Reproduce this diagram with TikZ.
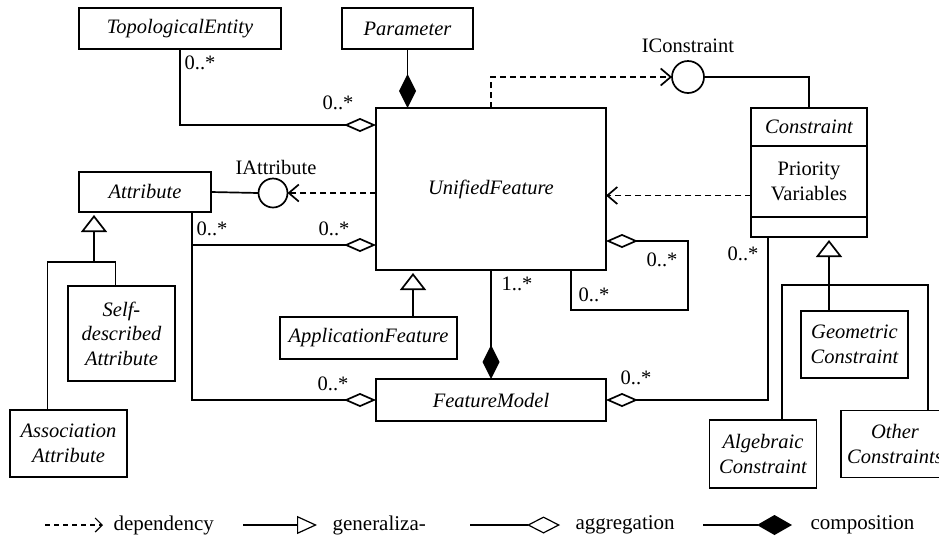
\documentclass[tikz,border=0pt]{standalone}
\usepackage{fontspec}
\setmainfont{Liberation Serif}
\usetikzlibrary{positioning, arrows.meta}

\begin{document}
\begin{tikzpicture}[
    x=1pt, y=-1pt,
    line width=1.7pt,
    box/.style={draw, rectangle, inner sep=0pt, outer sep=0pt, align=center,
        font=\fontsize{20.5}{24.5}\selectfont\itshape},
    mult/.style={inner sep=0pt, font=\fontsize{20.5}{24.5}\selectfont},
    iface/.style={draw, circle, inner sep=0pt, outer sep=0pt},
    dep/.style={dash pattern=on 6pt off 4pt, -{Straight Barb[length=10pt,width=17pt]}},
    aggr/.style={-{Diamond[open,length=32pt,width=14pt]}},
    comp/.style={-{Diamond[length=34pt,width=17pt]}},
    gen/.style={-{Triangle[open,length=17pt,width=26pt]}, shorten >=3pt},
    legend/.style={inner sep=0pt, anchor=west, font=\fontsize{21}{24}\selectfont}
]
\useasboundingbox (0,0) rectangle (939,539);

% classes
\node[box, minimum width=202pt, minimum height=41pt] (topo) at (180,28.5) {TopologicalEntity};
\node[box, minimum width=131pt, minimum height=41pt] (param) at (407.5,28.5) {Parameter};
\node[box, minimum width=230pt, minimum height=162pt] (uf) at (491,189) {UnifiedFeature};
\node[box, minimum width=132pt, minimum height=40pt] (attr) at (145,192) {Attribute};
\node[box, minimum width=107pt, minimum height=95pt] (selfattr) at (121.5,333.5) {Self-\\described\\Attribute};
\node[box, minimum width=117pt, minimum height=67pt] (assocattr) at (68.5,443.5) {Association\\Attribute};
\node[box, minimum width=177pt, minimum height=42pt] (appf) at (368.5,338) {ApplicationFeature};
\node[box, minimum width=230pt, minimum height=42pt] (fm) at (491,400) {FeatureModel};

% constraint class with compartments
\node[box, minimum width=116pt, minimum height=38pt] (cname) at (809,127) {Constraint};
\node[box, minimum width=116pt, minimum height=71pt, font=\fontsize{20.5}{24.5}\selectfont, below=0pt of cname] (cattr) {Priority\\Variables};
\node[box, minimum width=116pt, minimum height=20pt, below=0pt of cattr] (cops) {};

\node[box, minimum width=107pt, minimum height=67pt] (geo) at (854.5,344.5) {Geometric\\Constraint};
\node[box, minimum width=107pt, minimum height=68pt] (alg) at (763,454) {Algebraic\\Constraint};
\node[box, minimum width=108pt, minimum height=67pt] (other) at (895,444) {Other\\Constraints};

% interfaces
\node[iface, minimum size=29pt] (iattr) at (273,193) {};
\node[mult] (iattrlbl) at (276,167) {IAttribute};
\node[iface, minimum size=32pt] (iconst) at (688,77) {};
\node[mult] (iconstlbl) at (688,46) {IConstraint};

% helper points
\coordinate (attrleg) at ([xshift=-19pt]attr.south east);
\coordinate (agen) at ([xshift=15pt]attr.south west);
\coordinate (ajoin) at (94,262);
\coordinate (loop) at (688,310);
\coordinate (cbar) at (829,285);
\coordinate (cdep) at ([yshift=-14pt]cattr.west);

% connectors
\draw[comp] (param.south) -- (param.south |- uf.north);
\draw[aggr] (topo.south) |- ([yshift=-17pt]uf.north west);
\draw (attr.east) -- (iattr.west);
\draw[dep] (uf.west |- iattr) -- (iattr.east);
\draw[aggr] (attrleg) |- ([yshift=-56pt]uf.west);
\draw[aggr] (attrleg) |- (fm.west);
\draw ([xshift=-6pt]selfattr.north) |- (ajoin);
\draw ([xshift=-21pt]assocattr.north) |- (ajoin);
\draw[gen] (ajoin) -- (agen);
\draw[gen] ([xshift=44.5pt]appf.north) -- ([xshift=44.5pt]appf.north |- uf.south);
\draw[comp] (uf.south) -- (fm.north);
\draw[aggr] ([xshift=-35pt]uf.south east) |- (loop) |- ([yshift=-52pt]uf.east);
\draw[dep] (cdep) -- (uf.east |- cdep);
\draw (iconst.east) -| (cname.north);
\draw[dep] (uf.north) |- (iconst.west);
\draw[aggr] ([xshift=-41pt]cops.south) |- (fm.east);
\draw[gen] ([xshift=-25.5pt]geo.north) -- ([xshift=-25.5pt]geo.north |- cops.south);
\draw ([xshift=19pt]alg.north) |- (cbar) -| ([xshift=33pt]other.north);

% multiplicities
\node[mult] (m1) at (200,63) {0..*};
\node[mult] (m2) at (338,103) {0..*};
\node[mult] (m3) at (212,229) {0..*};
\node[mult] (m4) at (334,229) {0..*};
\node[mult] (m5) at (333,384) {0..*};
\node[mult] (m6) at (517,284) {1..*};
\node[mult] (m7) at (662,260) {0..*};
\node[mult] (m8) at (594,295) {0..*};
\node[mult] (m9) at (743,254) {0..*};
\node[mult] (m10) at (636,378) {0..*};

% legend
\begin{scope}[line width=1.2pt]
\coordinate (ldep) at (45,525);
\node[legend] (ldeptxt) at (113,525) {dependency};
\draw[dash pattern=on 5pt off 4pt, -{Straight Barb[length=7pt,width=14pt]}] (ldep) -- ([xshift=-10pt]ldeptxt.west);
\coordinate (lgen) at (243,525);
\node[legend] (lgentxt) at (332,525) {generaliza-};
\draw[-{Triangle[open,length=20pt,width=18pt]}] (lgen) -- ([xshift=-15pt]lgentxt.west);
\coordinate (laggr) at (470,525);
\node[legend] (laggrtxt) at (575,525) {aggregation};
\draw[-{Diamond[open,length=33pt,width=17pt]}] (laggr) -- ([xshift=-15pt]laggrtxt.west);
\coordinate (lcomp) at (703,525);
\node[legend] (lcomptxt) at (810,525) {composition};
\draw[-{Diamond[length=35pt,width=20pt]}] (lcomp) -- ([xshift=-18pt]lcomptxt.west);
\end{scope}
\end{tikzpicture}
\end{document}
